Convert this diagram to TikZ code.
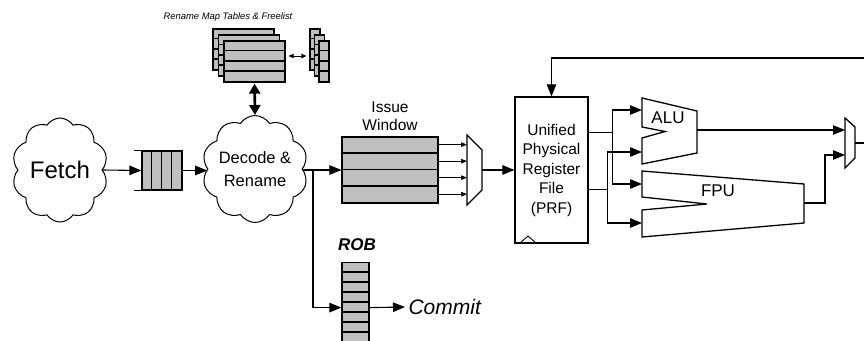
\documentclass[tikz,border=0pt]{standalone}
\usepackage{fontspec}
\setmainfont{Liberation Sans}
\usetikzlibrary{shapes.symbols,arrows.meta}

\begin{document}
\begin{tikzpicture}[
    x=1pt, y=-1pt,
    wire/.style={line width=1.1pt},
    arr/.style={wire, -{Triangle[length=12pt, width=9.5pt]}},
    sarr/.style={line width=0.7pt, -{Triangle[length=6pt, width=4.5pt]}},
    cell/.style={rectangle, draw, line width=1.2pt, fill=black!25, inner sep=0pt},
    puff/.style={cloud, draw, line width=1pt, cloud puffs=10, cloud puff arc=115, cloud ignores aspect, inner sep=0pt, align=center},
    unit/.style={line width=1.3pt, line join=miter},
    divider/.style={line width=1.4pt}
]
\useasboundingbox (0,0) rectangle (864,340);

% Front end
\node[puff, minimum width=96pt, minimum height=104pt, font=\fontsize{24}{28}\selectfont] (fetch) at (60,170) {Fetch};
\node[puff, minimum width=100pt, minimum height=107pt, font=\fontsize{16.5}{23}\selectfont] (decode) at (255,169) {Decode \&\\Rename};

\node[cell, minimum width=40pt, minimum height=39pt] (fq) at (162,170.5) {};
\foreach \i in {1,2,3}
    \draw[wire] ([xshift=\i*10pt]fq.north west) -- ([xshift=\i*10pt]fq.south west);
\draw[wire] (fq.north west) -- ++(-7,0);
\draw[wire] (fq.south west) -- ++(-7,0);

% Rename map tables and freelist
\node[font=\itshape\fontsize{9.4}{11}\selectfont] (maptitle) at (228,17) {Rename Map Tables \& Freelist};
\foreach \d in {2,1,0} {
    \node[cell, minimum width=61pt, minimum height=41pt] (map\d) at (254.5-5.5*\d, 61.5-6*\d) {};
    \foreach \r in {1,2,3}
        \draw[divider] ([yshift=-\r*10.25pt]map\d.north west) -- ([yshift=-\r*10.25pt]map\d.north east);
    \node[cell, minimum width=10pt, minimum height=41pt] (fl\d) at (324-4.5*\d, 61.5-6*\d) {};
    \foreach \r in {1,2,3}
        \draw[divider] ([yshift=-\r*10.25pt]fl\d.north west) -- ([yshift=-\r*10.25pt]fl\d.north east);
}
\coordinate (mapport) at ([shift={(3pt,5.5pt)}]map0.east);

% Issue window
\node[align=center, font=\fontsize{15.5}{18}\selectfont] (iwlabel) at (390,116) {Issue\\Window};
\node[cell, minimum width=96pt, minimum height=66pt] (iw) at (390,170) {};
\foreach \r in {1,2,3}
    \draw[divider] ([yshift=-\r*16.5pt]iw.north west) -- ([yshift=-\r*16.5pt]iw.north east);

\draw[unit] (467,135) -- (482,150) -- (482,190) -- (467,205) -- cycle;
\coordinate (muxin) at (467,170);
\coordinate (muxout) at (482,170);

% Register file
\node[draw, line width=1.2pt, minimum width=73pt, minimum height=146pt, align=center,
      font=\fontsize{15.5}{19.5}\selectfont] (prf) at (551.5,170) {Unified\\Physical\\Register\\File\\(PRF)};
\draw[line width=0.9pt] (520,243) -- (528,236) -- (536,243);
\coordinate (p1) at ([yshift=-36pt]prf.north east);
\coordinate (p2) at ([yshift=-93pt]prf.north east);

% Functional units
\draw[unit] (642,98) -- (697,111) -- (697,153) -- (642,164) -- (642,138) -- (665,131.5) -- (642,127) -- cycle;
\node[font=\fontsize{17}{20}\selectfont] (alu) at (668,118) {ALU};
\coordinate (aluA) at (642,110);
\coordinate (aluB) at (642,152);
\coordinate (aluout) at (697,130);

\draw[unit] (642,171) -- (804,184) -- (804,223) -- (642,237) -- (642,210) -- (707,204) -- (642,197) -- cycle;
\node[font=\fontsize{17}{20}\selectfont] (fpu) at (718,191) {FPU};
\coordinate (fpuA) at (642,184);
\coordinate (fpuB) at (642,223);
\coordinate (fpuout) at (804,203);

\draw[unit] (845,118) -- (855,127) -- (855,158) -- (845,168) -- cycle;
\coordinate (wbA) at (845,130);
\coordinate (wbB) at (845,155);
\coordinate (wbout) at (855,143);
\coordinate (edge) at (864,143);
\coordinate (fbk) at (864,58);

% ROB
\node[font=\bfseries\itshape\fontsize{17}{20}\selectfont] (roblbl) at (357,245) {ROB};
\node[cell, minimum width=27pt, minimum height=80pt, anchor=north] (rob) at (355.5,262) {};
\foreach \r in {1,...,7}
    \draw[divider] ([yshift=-\r*10pt]rob.north west) -- ([yshift=-\r*10pt]rob.north east);
\node[anchor=west, font=\itshape\fontsize{21}{24}\selectfont] (commit) at (405,307) {Commit};
\coordinate (split) at (313,170);

% Connections
\draw[arr] (fetch.east) -- (fq.west);
\draw[arr] (fq.east) -- (fq.east -| decode.west);
\draw[arr] (decode.east |- iw.west) -- (iw.west);
\draw[arr] (split) |- ([yshift=-5pt]rob.west);
\draw[arr] ([yshift=-5pt]rob.east) -- (commit.west);

\draw[line width=2.6pt, {Triangle[length=10pt, width=11pt]}-{Triangle[length=10pt, width=11pt]}]
    ([yshift=-1pt]map0.south) -- (decode.north);
\draw[line width=0.8pt, {Triangle[length=5pt, width=4.5pt]}-{Triangle[length=5pt, width=4.5pt]}]
    (mapport) -- ([xshift=-3pt]mapport -| fl2.west);

\foreach \r in {1,...,4}
    \draw[sarr] ([yshift=-\r*16.5pt+8.25pt]iw.north east) -- ([yshift=-\r*16.5pt+8.25pt]iw.north east -| muxin);
\draw[arr] (muxout) -- (prf.west);

\draw[arr] (p1) -- ++(24,0) |- (aluA);
\draw[arr] (p1) -- ++(24,0) |- (fpuA);
\draw[arr] (p2) -- ++(19,0) |- (aluB);
\draw[arr] (p2) -- ++(19,0) |- (fpuB);

\draw[arr] (aluout) -- (wbA);
\draw[arr] (fpuout) -- ++(21,0) |- (wbB);
\draw[wire] (wbout) -- (edge);
\draw[arr] (fbk) -| (prf.north);

\end{tikzpicture}
\end{document}
